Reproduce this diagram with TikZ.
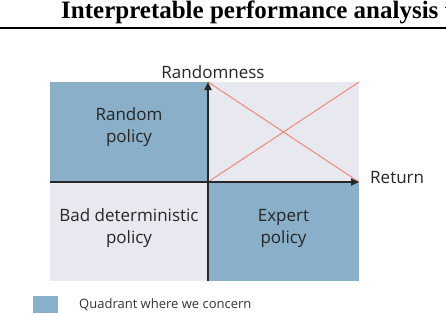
\documentclass[tikz,border=0pt]{standalone}
\usepackage{fontspec}
\setmainfont{Open Sans}
\newfontfamily\titlefont{Liberation Serif}
\usetikzlibrary{arrows.meta}
\definecolor{qblue}{HTML}{8AAFC8}
\definecolor{qgray}{HTML}{E8E8F0}
\definecolor{xred}{HTML}{F08878}
\begin{document}
\begin{tikzpicture}[x=1pt,y=-1pt,
  lbl/.style={font=\fontsize{17}{22}\selectfont, align=center, text=black!85, inner sep=0pt},
  axis/.style={line width=2pt, draw=black!85, -{Triangle[length=8pt,width=7pt]}},
  cross/.style={xred, line width=1pt}]
\useasboundingbox (0,0) rectangle (446,314);
% title
\node[anchor=base west, inner sep=0pt, font=\titlefont\bfseries\fontsize{25}{30}\selectfont] (title) at (61,18) {Interpretable performance analysis t};
\draw[line width=2.5pt] (0,28) -- (446,28);
% quadrants
\fill[qblue] (50,82) rectangle (208,182);
\fill[qgray] (208,82) rectangle (359,182);
\fill[qgray] (50,182) rectangle (208,281);
\fill[qblue] (208,182) rectangle (359,281);
% cross
\coordinate (o) at (208,182);
\coordinate (tl) at (208,82);
\coordinate (tr) at (359,82);
\coordinate (br) at (359,182);
\draw[cross] (tl) -- (br);
\draw[cross] (o) -- (tr);
% axes
\coordinate (xl) at (50,182);
\coordinate (yb) at (208,281);
\draw[axis] (xl) -- (br);
\draw[axis] (yb) -- (tl);
\node[lbl, anchor=south] (ylab) at (213,79) {Randomness};
\node[lbl, anchor=west] (xlab) at (370,178) {Return};
\node[lbl] (q2) at (129,127) {Random\\policy};
\node[lbl] (q3) at (129,228) {Bad deterministic\\policy};
\node[lbl] (q4) at (283.5,228) {Expert\\policy};
% legend
\fill[qblue] (33,296) rectangle (58,313);
\node[anchor=west, inner sep=0pt, font=\fontsize{13}{15}\selectfont, text=black!80] (legtext) at (79,305) {Quadrant where we concern};
\end{tikzpicture}
\end{document}
